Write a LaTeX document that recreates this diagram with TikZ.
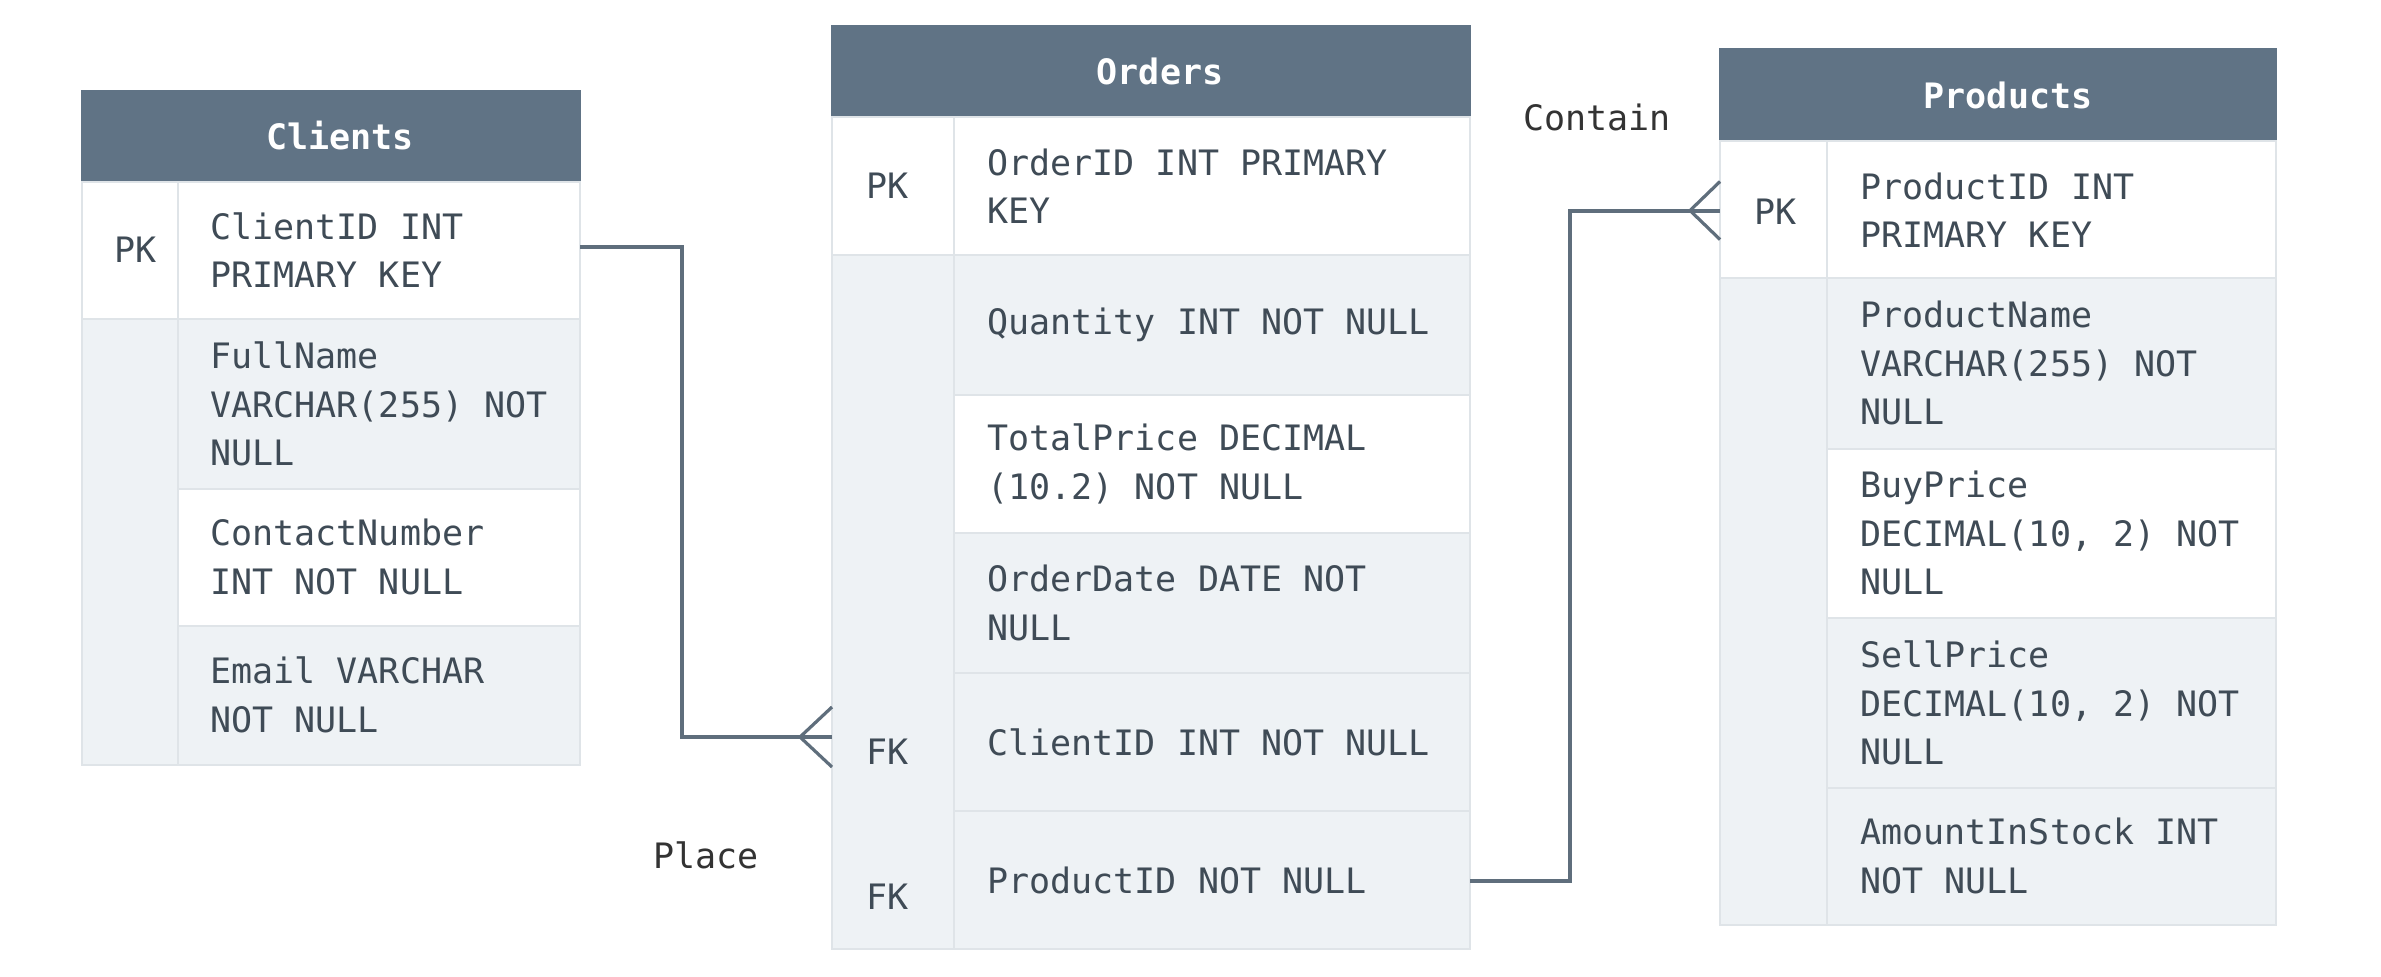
\documentclass[tikz,border=0pt]{standalone}
\usepackage{fontspec}
\setmonofont{DejaVu Sans Mono}
\usetikzlibrary{calc}
\definecolor{hdr}{HTML}{607385}
\definecolor{txt}{HTML}{3F4B56}
\definecolor{rowg}{HTML}{EEF2F5}
\definecolor{bord}{HTML}{DFE4E8}
\definecolor{conn}{HTML}{5F6E7C}
\tikzset{
  cellbox/.style={draw=bord, line width=0.6pt, inner sep=0pt, outer sep=0pt, anchor=north west},
  hdrbox/.style={cellbox, draw=hdr},
  htext/.style={text=white, inner sep=0pt, font=\ttfamily\bfseries\fontsize{17.5}{24.3}\selectfont},
  ftext/.style={text=txt, inner sep=0pt, anchor=west, align=left, font=\ttfamily\fontsize{17.5}{24.3}\selectfont},
  ltext/.style={text=black!80, inner sep=0pt, font=\ttfamily\fontsize{17.5}{24.3}\selectfont},
  connline/.style={draw=conn, line width=2pt},
  crow/.style={draw=conn, line width=1.6pt},
}
\newcommand{\tcell}[7]{\node[#7, fill=#6, minimum width={(#4-#2)*0.5pt}, minimum height={(#5-#3)*0.5pt}] (#1) at (#2,#3) {};}
\begin{document}
\begin{tikzpicture}[x=0.5pt, y=-0.5pt]
\useasboundingbox[fill=white] (0,0) rectangle (2381,976);

% ---------------- Clients ----------------
\tcell{clh}{82}{91}{580}{182}{hdr}{hdrbox}
\tcell{clk1}{82}{182}{178}{319}{white}{cellbox}
\tcell{clk2}{82}{319}{178}{765}{rowg}{cellbox}
\tcell{cl1}{178}{182}{580}{319}{white}{cellbox}
\tcell{cl2}{178}{319}{580}{489}{rowg}{cellbox}
\tcell{cl3}{178}{489}{580}{626}{white}{cellbox}
\tcell{cl4}{178}{626}{580}{765}{rowg}{cellbox}
\node[htext] (clt) at (340,136) {Clients};
\node[ftext] (clpk) at (114,250) {PK};
\node[ftext] (clf1) at (210,250) {ClientID INT\\PRIMARY KEY};
\node[ftext] (clf2) at (210,404) {FullName\\VARCHAR(255) NOT\\NULL};
\node[ftext] (clf3) at (210,557) {ContactNumber\\INT NOT NULL};
\node[ftext] (clf4) at (210,695) {Email VARCHAR\\NOT NULL};

% ---------------- Orders ----------------
\tcell{orh}{832}{26}{1470}{117}{hdr}{hdrbox}
\tcell{ork1}{832}{117}{954}{255}{white}{cellbox}
\tcell{ork2}{832}{255}{954}{949}{rowg}{cellbox}
\tcell{or1}{954}{117}{1470}{255}{white}{cellbox}
\tcell{or2}{954}{255}{1470}{395}{rowg}{cellbox}
\tcell{or3}{954}{395}{1470}{533}{white}{cellbox}
\tcell{or4}{954}{533}{1470}{673}{rowg}{cellbox}
\tcell{or5}{954}{673}{1470}{811}{rowg}{cellbox}
\tcell{or6}{954}{811}{1470}{949}{rowg}{cellbox}
\node[htext] (ort) at (1160,71) {Orders};
\node[ftext] (orpk) at (866,186) {PK};
\node[ftext] (orfk1) at (866,752) {FK};
\node[ftext] (orfk2) at (866,897) {FK};
\node[ftext] (orf1) at (987,186) {OrderID INT PRIMARY\\KEY};
\node[ftext] (orf2) at (987,325) {Quantity INT NOT NULL};
\node[ftext] (orf3) at (987,464) {TotalPrice DECIMAL\\(10.2) NOT NULL};
\node[ftext] (orf4) at (987,603) {OrderDate DATE NOT\\NULL};
\node[ftext] (orf5) at (987,742) {ClientID INT NOT NULL};
\node[ftext] (orf6) at (987,880) {ProductID NOT NULL};

% ---------------- Products ----------------
\tcell{prh}{1720}{49}{2276}{141}{hdr}{hdrbox}
\tcell{prk1}{1720}{141}{1827}{278}{white}{cellbox}
\tcell{prk2}{1720}{278}{1827}{925}{rowg}{cellbox}
\tcell{pr1}{1827}{141}{2276}{278}{white}{cellbox}
\tcell{pr2}{1827}{278}{2276}{449}{rowg}{cellbox}
\tcell{pr3}{1827}{449}{2276}{618}{white}{cellbox}
\tcell{pr4}{1827}{618}{2276}{788}{rowg}{cellbox}
\tcell{pr5}{1827}{788}{2276}{925}{rowg}{cellbox}
\node[htext] (prt) at (2008,95) {Products};
\node[ftext] (prpk) at (1754,212) {PK};
\node[ftext] (prf1) at (1860,210) {ProductID INT\\PRIMARY KEY};
\node[ftext] (prf2) at (1860,363) {ProductName\\VARCHAR(255) NOT\\NULL};
\node[ftext] (prf3) at (1860,533) {BuyPrice\\DECIMAL(10, 2) NOT\\NULL};
\node[ftext] (prf4) at (1860,703) {SellPrice\\DECIMAL(10, 2) NOT\\NULL};
\node[ftext] (prf5) at (1860,856) {AmountInStock INT\\NOT NULL};

% ---------------- Connectors ----------------
\coordinate (placex) at (682,0);
\coordinate (contx) at (1570,0);
\coordinate (placestart) at ($(cl1.east)+(0,-4)$);
\coordinate (placeend) at ($(ork2.west |- or5.west)+(0,-5)$);
\coordinate (contstart) at ($(or6.east)+(0,1)$);
\coordinate (contend) at ($(prk1.west)+(0,1)$);
\draw[connline] (placestart) -| (placex |- placeend) -- (placeend);
\draw[crow] ($(placeend)+(-32,0)$) -- ($(placeend)+(0,-30)$)
            ($(placeend)+(-32,0)$) -- ($(placeend)+(0,30)$);
\draw[connline] (contstart) -| (contx |- contend) -- (contend);
\draw[crow] ($(contend)+(-30,0)$) -- ($(contend)+(0,-29)$)
            ($(contend)+(-30,0)$) -- ($(contend)+(0,29)$);

\node[ltext] (place) at (706,855) {Place};
\node[ltext] (contain) at (1597,117) {Contain};
\end{tikzpicture}
\end{document}
